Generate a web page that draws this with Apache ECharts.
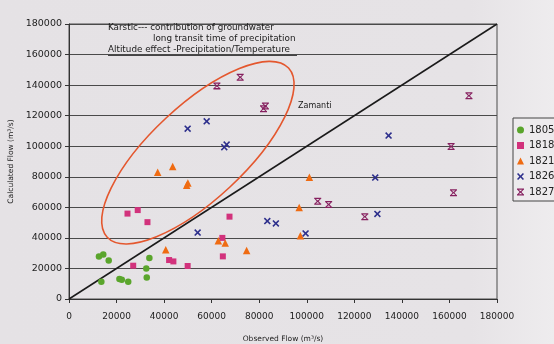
<!DOCTYPE html>
<html>
<head>
<meta charset="utf-8">
<script src="https://cdn.jsdelivr.net/npm/echarts@6/dist/echarts.min.js"></script>
<style>
  html, body { margin: 0; padding: 0; }
  #chart { width: 554px; height: 344px; }
</style>
</head>
<body>
<div id="chart"></div>
<script>
// Observed vs calculated flow (m3/s) by station
const seriesNames = ['1805', '1818', '1821', '1826', '1827'];

const flow1805 = [[12600,27900],[14400,29200],[16700,25200],[13600,11300],[21200,13100],
                  [22200,12600],[24900,11300],[33800,26800],[32500,20000],[32700,14100]];
const flow1818 = [[24600,55900],[28900,58200],[33000,50300],[27000,21800],[42100,25500],
                  [43900,24600],[49900,21600],[64500,40000],[64700,27900],[67500,53900]];
const flow1821 = [[37300,83000],[43600,86700],[49500,74500],[50000,76000],[40700,32200],
                  [62800,38100],[65700,36600],[74700,31800],[101100,79700],[96800,59900],[97300,41400]];
const flow1826 = [[49900,111500],[57900,116300],[65300,99400],[66300,101100],[54100,43500],
                  [83400,51000],[87000,49500],[99500,42900],[134400,107000],[128800,79500],[129700,55700]];
const flow1827 = [[62200,139500],[72000,145100],[81800,124600],[82600,126400],[104600,64000],
                  [109200,61900],[160700,99800],[161700,69600],[124400,53900],[168200,133100]];

// 1:1 reference line
const oneToOne = [[0, 0], [180000, 180000]];

const axisMin = 0, axisMax = 180000, axisStep = 20000;

const colors = ['#5aa52c', '#d2327c', '#ef6b12', '#2d2f8c', '#86205f'];
const xMark = 'path://M0,1.6L1.6,0L5,3.4L8.4,0L10,1.6L6.6,5L10,8.4L8.4,10L5,6.6L1.6,10L0,8.4L3.4,5Z';
const starMark = 'path://M0,0H10V1.8H0Z M0,8.2H10V10H0Z M0.6,1.8L2.4,1.8L5,4L7.6,1.8L9.4,1.8L6.4,5L9.4,8.2L7.6,8.2L5,6L2.4,8.2L0.6,8.2L3.6,5Z';
const symbols = ['circle', 'rect', 'triangle', xMark, starMark];
const sizes = [6.5, 6, 7.5, 7, 7];
const datasets = [flow1805, flow1818, flow1821, flow1826, flow1827];

const font = 'DejaVu Sans';
const chart = echarts.init(document.getElementById('chart'), null, { renderer: 'canvas' });

const scatterSeries = datasets.map((d, i) => ({
  name: seriesNames[i],
  type: 'scatter',
  data: d,
  symbol: symbols[i],
  symbolSize: sizes[i],
  itemStyle: { color: colors[i], opacity: 1 },
  z: 5
}));

const plain = v => String(v);

chart.setOption({
  backgroundColor: {
    type: 'linear', x: 0, y: 0, x2: 1, y2: 0,
    colorStops: [
      { offset: 0, color: '#e5e2e5' },
      { offset: 0.85, color: '#e6e3e6' },
      { offset: 1, color: '#eeecee' }
    ]
  },
  animation: false,
  grid: {
    left: 69, right: 57, top: 24, bottom: 45,
    containLabel: false, outerBoundsMode: 'none',
    show: true, borderColor: '#4a4a4a', borderWidth: 1, backgroundColor: 'transparent'
  },
  xAxis: {
    type: 'value', min: axisMin, max: axisMax, interval: axisStep,
    name: 'Observed Flow (m³/s)', nameLocation: 'middle', nameGap: 36,
    nameTextStyle: { fontFamily: font, fontSize: 7.5, color: '#222' },
    axisLine: { show: true, onZero: false, lineStyle: { color: '#333', width: 1 } },
    axisTick: { show: true, length: 4, lineStyle: { color: '#333' } },
    axisLabel: { fontFamily: font, fontSize: 9, color: '#222', margin: 13, formatter: plain },
    splitLine: { show: false }
  },
  yAxis: {
    type: 'value', min: axisMin, max: axisMax, interval: axisStep,
    name: 'Calculated Flow (m³/s)', nameLocation: 'middle', nameGap: 51,
    nameTextStyle: { fontFamily: font, fontSize: 7.5, color: '#222' },
    axisLine: { show: true, lineStyle: { color: '#333', width: 1 } },
    axisTick: { show: true, length: 4, lineStyle: { color: '#333' } },
    axisLabel: { fontFamily: font, fontSize: 9.5, color: '#222', margin: 7, formatter: plain },
    splitLine: { show: true, lineStyle: { color: '#4a4a4a', width: 1 } }
  },
  legend: {
    data: seriesNames.map((n, i) => ({ name: n, icon: symbols[i] })),
    orient: 'vertical', left: 513, top: 118,
    itemWidth: 7, itemHeight: 7, itemGap: 3.5,
    padding: [6, 30, 3, 4],
    borderColor: '#444', borderWidth: 1, backgroundColor: '#edebed',
    textStyle: { fontFamily: font, fontSize: 10, color: '#222', lineHeight: 12 }
  },
  series: [
    {
      name: '1:1', type: 'line', data: oneToOne, showSymbol: false,
      lineStyle: { color: '#1a1a1a', width: 1.5 }, silent: true, z: 3
    },
    ...scatterSeries
  ]
});

// Annotation: grouping ellipse around the Zamanti stations, placed in data units
const ellipseCenter = [54200, 95800];
const c = chart.convertToPixel({ gridIndex: 0 }, ellipseCenter);
const noteFont = '8.8px "DejaVu Sans"';

chart.setOption({
  graphic: [
    {
      type: 'ellipse',
      shape: { cx: c[0], cy: c[1], rx: 124, ry: 47 },
      originX: c[0], originY: c[1],
      rotation: 43 * Math.PI / 180,
      style: { fill: 'none', stroke: '#e4572e', lineWidth: 1.6 },
      z: 4
    },
    {
      type: 'text', left: 108, top: 23,
      style: { text: 'Karstic--- contribution of groundwater', font: noteFont, fill: '#1a1a1a' }
    },
    {
      type: 'text', left: 153, top: 34.5,
      style: { text: 'long transit time of precipitation', font: noteFont, fill: '#1a1a1a' }
    },
    {
      type: 'text', left: 108, top: 45.5,
      style: { text: 'Altitude effect -Precipitation/Temperature', font: noteFont, fill: '#1a1a1a' }
    },
    {
      type: 'line', shape: { x1: 108, y1: 55.5, x2: 297, y2: 55.5 },
      style: { stroke: '#1a1a1a', lineWidth: 0.8 }
    },
    {
      type: 'text', left: 298, top: 102,
      style: { text: 'Zamanti', font: '8px "DejaVu Sans"', fill: '#1a1a1a' }
    }
  ]
});
</script>
</body>
</html>
